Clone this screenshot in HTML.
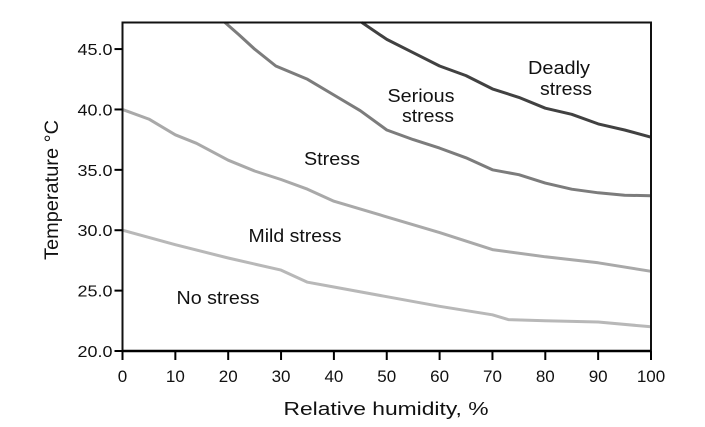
<!DOCTYPE html>
<html><head><meta charset="utf-8"><style>
body{margin:0;background:#fff;}
svg{display:block;font-family:"Liberation Sans",sans-serif;}
</style></head><body>
<svg id="chart" width="705" height="427">
<g id="marks"></g><g id="axes"></g>
</svg>
<script>
const xTicks=[0,10,20,30,40,50,60,70,80,90,100];
const yTicks=[20,25,30,35,40,45];
const noStressX=[0,10,20,30,35,40,50,60,70,73,80,90,100];
const noStressY=[30.0,28.8,27.7,26.7,25.7,25.3,24.5,23.7,23.0,22.6,22.5,22.4,22.0];
const mildX=[0,5,10,14,20,25,30,35,40,50,60,70,80,90,100];
const mildY=[40.0,39.2,37.9,37.2,35.8,34.9,34.2,33.4,32.4,31.1,29.8,28.4,27.8,27.3,26.6];
const stressX=[19.4,22,25,29,35,40,45,50,55,60,65,70,75,80,85,90,95,100];
const stressY=[47.2,46.2,45.0,43.6,42.5,41.2,39.9,38.3,37.5,36.8,36.0,35.0,34.6,33.9,33.4,33.1,32.9,32.85];
const deadlyX=[45.3,50,55,60,65,70,75,80,85,90,95,100];
const deadlyY=[47.2,45.8,44.7,43.6,42.8,41.7,41.0,40.1,39.6,38.8,38.3,37.7];
const seriesNames=["no-stress-boundary","mild-stress-boundary","stress-boundary","deadly-stress-boundary"];
const seriesColors=["#b8b8b8","#a9a9a9","#7c7c7c","#414141"];

const L=122.5,R=651,T=22.5,B=351;
const yMin=20,yMax=47.2;
const sx=v=>L+(v/100)*(R-L);
const sy=v=>B-(v-yMin)/(yMax-yMin)*(B-T);
const NS="http://www.w3.org/2000/svg";
const marks=document.getElementById('marks'),axes=document.getElementById('axes');
function mk(tag,attrs,parent){const e=document.createElementNS(NS,tag);for(const k in attrs)e.setAttribute(k,attrs[k]);parent.appendChild(e);return e;}

const allX=[noStressX,mildX,stressX,deadlyX],allY=[noStressY,mildY,stressY,deadlyY];
for(let i=0;i<4;i++){
  const d=allX[i].map((x,j)=>(j?'L':'M')+sx(x).toFixed(1)+','+sy(allY[i][j]).toFixed(1)).join(' ');
  const p=mk('path',{d:d,fill:'none',stroke:seriesColors[i],'stroke-width':3,'stroke-linejoin':'round'},marks);
  
  
}
const labels=[["Deadly",559,74,62],["stress",566,95,52],["Serious",421,102,67],["stress",428,122,52],["Stress",332,165,56],["Mild stress",295,242,93],["No stress",218,304,83]];
const labelNames=["deadly-stress-label","deadly-stress-label-2","serious-stress-label","serious-stress-label-2","stress-label","mild-stress-label","no-stress-label"];
labels.forEach((l,i)=>{const t=mk('text',{x:l[1],y:l[2],'text-anchor':'middle','font-size':18,fill:'#111',textLength:l[3],lengthAdjust:'spacingAndGlyphs'},marks);t.textContent=l[0];
  
  });

const frame=mk('rect',{x:L,y:T,width:R-L,height:B-T,fill:'none',stroke:'#111','stroke-width':2},axes);


mk('line',{x1:L,y1:B,x2:R,y2:B,stroke:'#000','stroke-width':2.5},axes);
xTicks.forEach(v=>{mk('line',{x1:sx(v),y1:B,x2:sx(v),y2:B+9,stroke:'#000','stroke-width':2},axes);
  const t=mk('text',{x:sx(v),y:B+31,'text-anchor':'middle','font-size':17,fill:'#111'},axes);t.textContent=v;
  
  });
yTicks.forEach(v=>{mk('line',{x1:L-8,y1:sy(v),x2:L,y2:sy(v),stroke:'#000','stroke-width':2},axes);
  const t=mk('text',{x:L-10,y:sy(v)+6,'text-anchor':'end','font-size':16,fill:'#111',textLength:35,lengthAdjust:'spacingAndGlyphs'},axes);t.textContent=v.toFixed(1);
  
  });
const xt=mk('text',{x:386,y:415,'text-anchor':'middle','font-size':18,fill:'#111',textLength:205,lengthAdjust:'spacingAndGlyphs'},axes);xt.textContent="Relative humidity, %";


const yt=mk('text',{x:0,y:0,transform:'translate(58,190) rotate(-90)','text-anchor':'middle','font-size':19,fill:'#111',textLength:140,lengthAdjust:'spacingAndGlyphs'},axes);yt.textContent="Temperature °C";


</script>
</body></html>
